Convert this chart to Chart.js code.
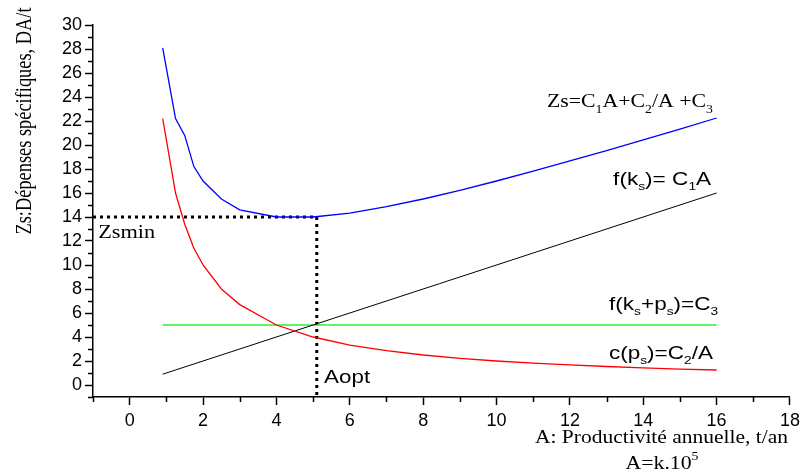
<!DOCTYPE html>
<html>
<head>
<meta charset="utf-8">
<script src="https://cdn.jsdelivr.net/npm/chart.js@4/dist/chart.umd.min.js"></script>
<style>
  html, body { margin: 0; padding: 0; background: #ffffff; }
  #wrap { width: 805px; height: 474px; }
</style>
</head>
<body>
<div id="wrap"><canvas id="c" width="805" height="474"></canvas></div>
<script>
// Annual productivity A (x 10^5 t/an)
const prodA = [0.9, 1.25, 1.5, 1.75, 2, 2.5, 3, 4, 5, 6, 7, 8, 9, 10, 11, 12, 13, 14, 15, 16];
// Total specific cost Zs = C1A + C2/A + C3
const totalZs = [28.1, 22.2, 20.8, 18.2, 17.0, 15.5, 14.6, 14.0, 14.0, 14.33, 14.86, 15.5, 16.22, 17.0, 17.82, 18.67, 19.54, 20.43, 21.33, 22.25];
// c(ps) = C2/A
const costC2A = [22.2, 16.0, 13.4, 11.4, 10.0, 8.0, 6.7, 5.0, 4.0, 3.33, 2.86, 2.5, 2.22, 2.0, 1.82, 1.67, 1.54, 1.43, 1.33, 1.25];
// Straight lines: f(ks) = C1A and f(ks+ps) = C3
const lineA = [0.9, 16];
const costC1A = [0.9, 16];
const costC3 = [5, 5];
// Optimum
const optA = 5.1;
const zsMin = 14;
// Axis ranges
const xRange = [-1, 18];
const yRange = [-1, 30];

const pts = (xs, ys) => xs.map((x, i) => ({ x: x, y: ys[i] }));

const SANS = "'Liberation Sans', Arial, sans-serif";
const SERIF = "'Liberation Serif', 'Times New Roman', serif";

// Text made of runs: 0 = normal, 1 = subscript, 2 = superscript
function runFont(kind, size, family) {
  const s = kind ? Math.round(size * 0.62) : size;
  return s + 'px ' + family;
}
function drawRich(ctx, parts, o) {
  ctx.save();
  let w = 0;
  for (const [t, k] of parts) { ctx.font = runFont(k, o.size, o.family); w += ctx.measureText(t).width; }
  const sx = o.width ? o.width / w : 1;
  const total = w * sx;
  const off = o.align === 'right' ? -total : (o.align === 'center' ? -total / 2 : 0);
  ctx.translate(o.x, o.y);
  if (o.rotate) ctx.rotate(-Math.PI / 2);
  ctx.translate(off, 0);
  ctx.scale(sx, o.sy || 1);
  ctx.fillStyle = '#000';
  ctx.textAlign = 'left';
  ctx.textBaseline = 'alphabetic';
  let cx = 0;
  for (const [t, k] of parts) {
    ctx.font = runFont(k, o.size, o.family);
    const dy = k === 1 ? o.size * 0.3 : (k === 2 ? -o.size * 0.45 : 0);
    ctx.fillText(t, cx, dy);
    cx += ctx.measureText(t).width;
  }
  ctx.restore();
}

// Curve labels, placed in data units
const curveLabels = [
  { parts: [['Zs=C', 0], ['1', 1], ['A+C', 0], ['2', 1], ['/A +C', 0], ['3', 1]], x: 15.9, y: 23.17, align: 'right', size: 19, family: SERIF, width: 166 },
  { parts: [['f(k', 0], ['s', 1], [')= C', 0], ['1', 1], ['A', 0]], x: 15.85, y: 16.67, align: 'right', size: 18, family: SANS, width: 98 },
  { parts: [['f(k', 0], ['s', 1], ['+p', 0], ['s', 1], [')=C', 0], ['3', 1]], x: 16.04, y: 6.25, align: 'right', size: 18, family: SANS, width: 109 },
  { parts: [['c(p', 0], ['s', 1], [')=C', 0], ['2', 1], ['/A', 0]], x: 15.9, y: 2.17, align: 'right', size: 18, family: SANS, width: 104 },
  { parts: [['Zsmin', 0]], x: -0.86, y: 12.25, align: 'left', size: 18, family: SERIF, width: 57 },
  { parts: [['Aopt', 0]], x: 5.3, y: 0.17, align: 'left', size: 18, family: SANS, width: 46 }
];

const annotations = {
  id: 'annotations',
  afterDraw(chart) {
    const ctx = chart.ctx;
    const xs = chart.scales.x, ys = chart.scales.y;
    const area = chart.chartArea;

    // minor ticks at odd values
    ctx.save();
    ctx.strokeStyle = '#000';
    ctx.lineWidth = 1.5;
    ctx.beginPath();
    for (let v = xRange[0]; v <= xRange[1]; v++) {
      if (Math.abs(v % 2) === 1) {
        const px = Math.round(xs.getPixelForValue(v)) + 0.5;
        ctx.moveTo(px, area.bottom); ctx.lineTo(px, area.bottom + 5);
      }
    }
    for (let v = yRange[0]; v <= yRange[1]; v++) {
      if (Math.abs(v % 2) === 1) {
        const py = Math.round(ys.getPixelForValue(v)) + 0.5;
        ctx.moveTo(area.left, py); ctx.lineTo(area.left - 5, py);
      }
    }
    ctx.stroke();
    ctx.restore();

    for (const l of curveLabels) {
      drawRich(ctx, l.parts, { x: xs.getPixelForValue(l.x), y: ys.getPixelForValue(l.y), align: l.align, size: l.size, family: l.family, width: l.width });
    }

    // axis titles
    drawRich(ctx, [['A: Productivité annuelle, t/an', 0]], { x: area.right - 2, y: area.bottom + 46, align: 'right', size: 19, family: SERIF, width: 253 });
    drawRich(ctx, [['A=k.10', 0], ['5', 2]], { x: 662, y: area.bottom + 72, align: 'center', size: 19, family: SERIF, width: 73 });
    drawRich(ctx, [['Zs:Dépenses spécifiques, DA/t', 0]], { x: 31, y: 121, align: 'center', rotate: true, size: 19, family: SERIF, width: 227, sy: 1.2 });
  }
};

const tickColor = (c) => (c.tick && Math.abs(c.tick.value % 2) === 0) ? '#000' : 'rgba(0,0,0,0)';
const evenLabel = (v) => (Math.abs(v % 2) === 0 ? String(v) : '');

new Chart(document.getElementById('c'), {
  type: 'scatter',
  data: {
    datasets: [
      { data: pts(prodA, totalZs), borderColor: '#0000ff', borderWidth: 1.3, showLine: true, pointRadius: 0, tension: 0 },
      { data: pts(prodA, costC2A), borderColor: '#ff0000', borderWidth: 1.3, showLine: true, pointRadius: 0, tension: 0 },
      { data: pts(lineA, costC1A), borderColor: '#000000', borderWidth: 1, showLine: true, pointRadius: 0 },
      { data: pts(lineA, costC3), borderColor: '#33ee33', borderWidth: 1.3, showLine: true, pointRadius: 0 },
      { data: [{ x: xRange[0], y: zsMin }, { x: optA, y: zsMin }], borderColor: '#000', borderWidth: 3, borderDash: [3, 4], borderCapStyle: 'butt', showLine: true, pointRadius: 0 },
      { data: [{ x: optA, y: zsMin }, { x: optA, y: yRange[0] }], borderColor: '#000', borderWidth: 3, borderDash: [3, 4], borderCapStyle: 'butt', showLine: true, pointRadius: 0 }
    ]
  },
  options: {
    responsive: false,
    animation: false,
    events: [],
    layout: { padding: { left: 0, top: 25, right: 15, bottom: 0 } },
    plugins: { legend: { display: false }, tooltip: { enabled: false } },
    scales: {
      x: {
        type: 'linear', min: xRange[0], max: xRange[1],
        afterFit: (s) => { s.height = 77; },
        border: { display: true, color: '#000', width: 1.5 },
        grid: { display: true, drawOnChartArea: false, drawTicks: true, tickLength: 8, tickWidth: 1.5, tickColor: tickColor },
        ticks: { stepSize: 1, autoSkip: false, maxRotation: 0, padding: 5, color: '#000', font: { family: SANS, size: 18 }, callback: evenLabel }
      },
      y: {
        type: 'linear', min: yRange[0], max: yRange[1],
        afterFit: (s) => { s.width = 93; },
        border: { display: true, color: '#000', width: 1.5 },
        grid: { display: true, drawOnChartArea: false, drawTicks: true, tickLength: 8, tickWidth: 1.5, tickColor: tickColor },
        ticks: { stepSize: 1, autoSkip: false, padding: 3, color: '#000', font: { family: SANS, size: 18 }, callback: evenLabel }
      }
    }
  },
  plugins: [annotations]
});
</script>
</body>
</html>
